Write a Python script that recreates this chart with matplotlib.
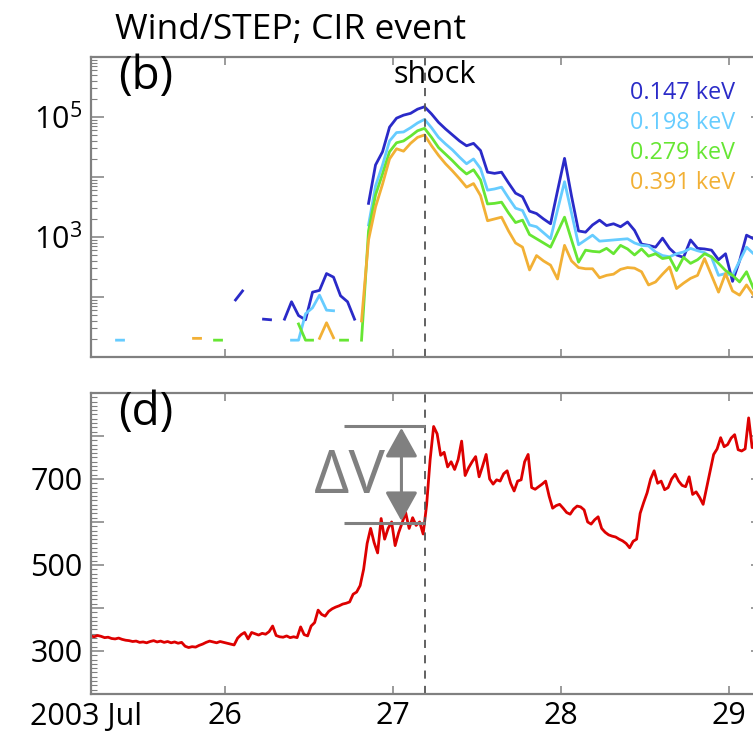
import numpy as np
import matplotlib
matplotlib.use("Agg")
import matplotlib.pyplot as plt
from matplotlib.ticker import MultipleLocator, LogLocator, FuncFormatter, NullFormatter, FixedLocator

plt.rcParams['font.family'] = ['Open Sans', 'DejaVu Sans']
plt.rcParams['mathtext.fontset'] = 'custom'
plt.rcParams['mathtext.rm'] = 'Open Sans'
plt.rcParams['mathtext.it'] = 'Open Sans:italic'

nan = np.nan

# ---- Wind/STEP hourly fluxes, log10 values (hours after 2003 Jul 25 00:00 UT) ----
flux_hours = 5.5 + np.arange(96)

logflux_147 = [nan] * 20 + [1.95, 2.1, nan, nan, 1.63, 1.62, nan,
    1.63, 1.92, 1.69, 1.62, 2.08, 2.11, 2.39, 2.33, 2.02, 1.92, 1.63, nan,
    3.56, 4.2, 4.42, 4.83, 4.98, 5.03, 5.06, 5.13, 5.17,
    5.05, 4.91, 4.80, 4.70, 4.60, 4.52, 4.56, 4.44,
    4.08, 4.06, 4.08, 3.9, 3.73, 3.67, 3.43, 3.39, 3.30, 3.22, 3.77, 4.31, 3.68, 3.1, 3.08, 3.2, 3.28,
    3.19, 3.22, 3.17, 3.25, 3.11, 2.88, 2.86, 2.83, 2.98, 2.81, 2.7, 2.66,
    2.95, 2.81, 2.8, 2.78, 2.62, 2.72, 2.26, 2.6, 3.03, 2.97, 2.9]

logflux_198 = [nan] * 3 + [1.28, 1.28] + [nan] * 23 + \
    [1.28, 1.28, 1.72, 1.82, 2.03, 1.78, 1.77] + [nan] * 4 + [
    3.2, 3.85, 4.2, 4.6, 4.74, 4.75, 4.82, 4.9, 4.96,
    4.82, 4.66, 4.55, 4.45, 4.33, 4.22, 4.30, 4.14,
    3.78, 3.8, 3.83, 3.65, 3.48, 3.44, 3.2, 3.17, 3.07, 2.97, 3.45, 3.92, 3.4, 2.87, 2.95, 3.03, 2.93,
    2.94, 2.95, 2.96, 2.97, 2.9, 2.86, 2.85, 2.75, 2.69, 2.67, 2.72, 2.75,
    2.81, 2.77, 2.74, 2.66, 2.36, 2.39, 2.36, 2.6, 2.83, 2.72, 2.7]

logflux_279 = [nan] * 17 + [1.28, 1.28] + [nan] * 10 + [1.55, 1.28, 1.28] + \
    [nan] * 3 + [1.28, 1.28, nan] + [
    1.28, 3.1, 3.7, 4.05, 4.42, 4.57, 4.6, 4.68, 4.77, 4.81,
    4.66, 4.49, 4.38, 4.27, 4.15, 4.05, 4.12, 3.95,
    3.55, 3.56, 3.58, 3.4, 3.24, 3.28, 3.04, 2.97, 2.9, 2.83, 3.08, 3.33, 2.95, 2.58, 2.78, 2.76, 2.75,
    2.81, 2.72, 2.86, 2.8, 2.7, 2.8, 2.68, 2.72, 2.64, 2.66, 2.44, 2.66,
    2.56, 2.62, 2.72, 2.67, 2.56, 2.44, 2.36, 2.25, 2.42, 2.14, 2.2]

logflux_391 = [nan] * 14 + [1.31, 1.31] + [nan] * 16 + [1.31, 1.57, 1.32] + \
    [nan] * 3 + [
    1.6, 2.95, 3.5, 3.88, 4.3, 4.47, 4.43, 4.56, 4.66, 4.70,
    4.52, 4.36, 4.22, 4.1, 3.97, 3.83, 3.89, 3.69,
    3.27, 3.3, 3.33, 3.1, 2.9, 2.83, 2.45, 2.69, 2.6, 2.53, 2.3, 2.86, 2.6, 2.49, 2.47, 2.47, 2.32,
    2.36, 2.38, 2.46, 2.49, 2.48, 2.42, 2.2, 2.25, 2.38, 2.5, 2.14, 2.23,
    2.31, 2.36, 2.64, 2.36, 2.08, 2.39, 2.1, 2.03, 2.2, 2.03, 2.05]

energies = ['0.147 keV', '0.198 keV', '0.279 keV', '0.391 keV']
colors = ['#2a2ac8', '#66ccff', '#66e633', '#f2b035']

# ---- solar wind speed, 30-min samples from 2003 Jul 25.2 (km/s) ----
v_days = 25.2 + np.arange(191) / 48
v_speed = [
    335, 333, 336, 334, 331, 332, 329, 328, 330, 327,
    325, 324, 322, 323, 320, 321, 319, 322, 324, 321,
    323, 320, 322, 319, 321, 318, 320, 311, 308, 310,
    309, 313, 316, 320, 323, 321, 319, 322, 320, 318,
    316, 314, 330, 338, 343, 328, 343, 340, 337, 341,
    339, 345, 358, 336, 333, 332, 335, 331, 333, 331,
    356, 338, 335, 358, 366, 395, 385, 381, 392, 398,
    402, 405, 409, 411, 414, 432, 437, 452, 490, 550,
    585, 552, 528, 608, 560, 585, 600, 545, 575, 598,
    622, 585, 610, 592, 600, 572, 640, 745, 822, 805,
    755, 762, 728, 740, 722, 745, 788, 708, 726, 740,
    752, 705, 730, 757, 700, 688, 698, 695, 712, 719,
    690, 672, 695, 698, 740, 757, 680, 676, 682, 688,
    695, 660, 632, 638, 641, 632, 622, 618, 630, 637,
    635, 628, 600, 595, 605, 612, 585, 576, 570, 567,
    565, 560, 556, 550, 540, 555, 560, 620, 645, 668,
    700, 719, 690, 695, 675, 680, 700, 711, 695, 685,
    682, 705, 664, 670, 657, 641, 680, 720, 757, 770,
    796, 775, 780, 795, 803, 768, 765, 770, 842, 773,
    775]

shock_day = 27.19
dv_low, dv_high = 598, 823
dv_start = 26.71
dv_arrow_day = 27.05

xmin, xmax = 25.202, 29.2
gray = '#808080'

fig = plt.figure(figsize=(7.53, 7.36), dpi=100)
ax1 = fig.add_axes([0.1208, 0.515, 0.892, 0.4076])
ax2 = fig.add_axes([0.1208, 0.0571, 0.892, 0.409])

flux_days = 25 + flux_hours / 24
for lf, c in zip([logflux_147, logflux_198, logflux_279, logflux_391], colors):
    ax1.plot(flux_days, 10 ** np.array(lf, dtype=float), color=c, lw=2.0)

ax1.set_yscale('log')
ax1.set_ylim(10, 1e6)
ax1.yaxis.set_major_locator(LogLocator(base=10, numticks=10))
ax1.yaxis.set_minor_locator(LogLocator(base=10, subs=np.arange(2, 10), numticks=20))
ax1.yaxis.set_minor_formatter(NullFormatter())


def logfmt(v, pos):
    e = int(round(np.log10(v)))
    return '$10^{%d}$' % e if e in (3, 5) else ''


ax1.yaxis.set_major_formatter(FuncFormatter(logfmt))

ax2.plot(v_days, v_speed, color='#dd0000', lw=2.0)
ax2.set_ylim(200, 900)
ax2.yaxis.set_major_locator(MultipleLocator(100))
ax2.yaxis.set_minor_locator(MultipleLocator(10))
ax2.yaxis.set_major_formatter(FuncFormatter(lambda v, p: '%d' % v if int(round(v)) in (300, 500, 700) else ''))

for ax in (ax1, ax2):
    ax.set_xlim(xmin, xmax)
    ax.xaxis.set_major_locator(FixedLocator([26, 27, 28, 29]))
    ax.axvline(shock_day, color='#555555', lw=1.3, ls=(0, (4.5, 4)))
    for s in ax.spines.values():
        s.set_color(gray)
        s.set_linewidth(1.6)
    ax.tick_params(which='both', direction='in', colors=gray, labelcolor='black',
                   top=True, right=True, labelsize=22)
    ax.tick_params(which='major', length=9, width=1.1)
    ax.tick_params(which='minor', length=4.5, width=0.8)
    ax.tick_params(axis='x', which='major', length=6, pad=5)
    ax.tick_params(axis='y', which='major', pad=6)

ax1.tick_params(labelbottom=False)
ax2.xaxis.set_major_formatter(FuncFormatter(lambda v, p: '%d' % v))
ax2.text(-0.008, -0.028, '2003 Jul', transform=ax2.transAxes, ha='center', va='top', fontsize=22)

# labels
fig.text(115 / 753, 1 - 30 / 736, 'Wind/STEP; CIR event', fontsize=25.5, va='center', ha='left')
ax1.text(0.04, 1.01, '(b)', transform=ax1.transAxes, fontsize=33, va='top', ha='left')
ax2.text(0.04, 1.01, '(d)', transform=ax2.transAxes, fontsize=33, va='top', ha='left')
ax1.text(shock_day + 0.06, 0.94, 'shock', transform=ax1.get_xaxis_transform(), fontsize=22,
         ha='center', va='center')

for k, (lab, c) in enumerate(zip(energies, colors)):
    fig.text(735 / 753, 1 - (93 + 30 * k) / 736, lab, color=c, fontsize=16.8,
             ha='right', va='center')

# delta V annotation
ax2.hlines([dv_high, dv_low], dv_start, shock_day, color=gray, lw=2.2)
ax2.annotate('', xy=(dv_arrow_day, dv_high - 4), xytext=(dv_arrow_day, dv_low + 4),
             arrowprops=dict(arrowstyle='<|-|>,head_length=0.9,head_width=0.5',
                             mutation_scale=20, color=gray, lw=2.2,
                             shrinkA=0, shrinkB=0))
ax2.text(26.955, 705, '\u0394V', color=gray, fontsize=44, ha='right', va='center')

fig.savefig('out.png', dpi=100)
